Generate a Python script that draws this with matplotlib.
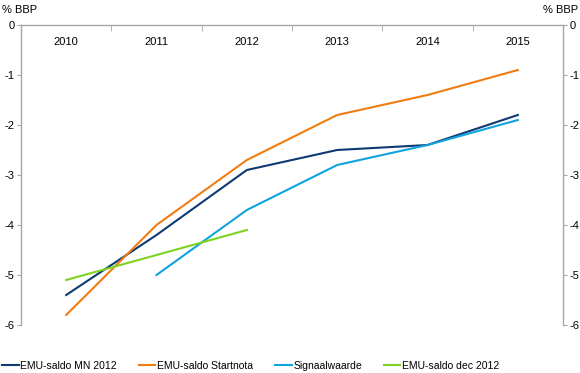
import matplotlib.pyplot as plt
import numpy as np

plt.rcParams['font.family'] = ['Liberation Sans', 'DejaVu Sans']

YEARS = ["2010", "2011", "2012", "2013", "2014", "2015"]

mn_2012 = [-5.4, -4.2, -2.9, -2.5, -2.4, -1.8]
startnota = [-5.8, -4.0, -2.7, -1.8, -1.4, -0.9]
signaal = [np.nan, -5.0, -3.7, -2.8, -2.4, -1.9]
dec_2012 = [-5.1, -4.6, -4.1, np.nan, np.nan, np.nan]

LABELS = ["EMU-saldo MN 2012", "EMU-saldo Startnota", "Signaalwaarde",
          "EMU-saldo dec 2012"]
COLORS = ["#0e3a73", "#f07c12", "#10a3dd", "#7ed321"]

Y_TICKS = [0, -1, -2, -3, -4, -5, -6]
GREY = "#a6a6a6"

fig = plt.figure(figsize=(5.8, 3.73), dpi=100)
ax = fig.add_axes([21/580, 1-325/373, 542/580, 300/373])

x = np.arange(len(YEARS))
series = [mn_2012, startnota, signaal, dec_2012]
for s, lab, c in zip(series, LABELS, COLORS):
    ax.plot(x, s, color=c, lw=1.5, label=lab)

ax.set_xlim(-0.5, 5.5)
ax.set_ylim(-6, 0)

for i, yr in enumerate(YEARS):
    ax.text(i, -0.34, yr, ha="center", va="center", fontsize=8)

ax.set_xticks([])
ax.set_xticks(np.arange(0.5, 5.5, 1), minor=True)
ax.tick_params(axis="x", which="minor", direction="in", length=4,
               color=GREY, top=True, bottom=False, labeltop=False,
               labelbottom=False)

ax.set_yticks(Y_TICKS)
ax.set_yticklabels([str(v) for v in Y_TICKS])
ax.tick_params(axis="y", direction="out", length=3, color=GREY,
               labelsize=8, left=True, right=True, labelleft=True,
               labelright=True, pad=1.5)

ax.spines["bottom"].set_visible(False)
for sp in ["top", "left", "right"]:
    ax.spines[sp].set_color(GREY)
    ax.spines[sp].set_linewidth(1)

fig.text(2/580, 1-10/373, "% BBP", ha="left", va="center", fontsize=8)
fig.text(578/580, 1-10/373, "% BBP", ha="right", va="center", fontsize=8)

fig.legend(loc="lower left", bbox_to_anchor=(0.0, 0.0), ncol=4,
           frameon=False, fontsize=7.5, handlelength=1.6,
           handletextpad=0.15, columnspacing=2.1, borderaxespad=0.0,
           borderpad=0.2)

fig.savefig("out.png", dpi=100)
